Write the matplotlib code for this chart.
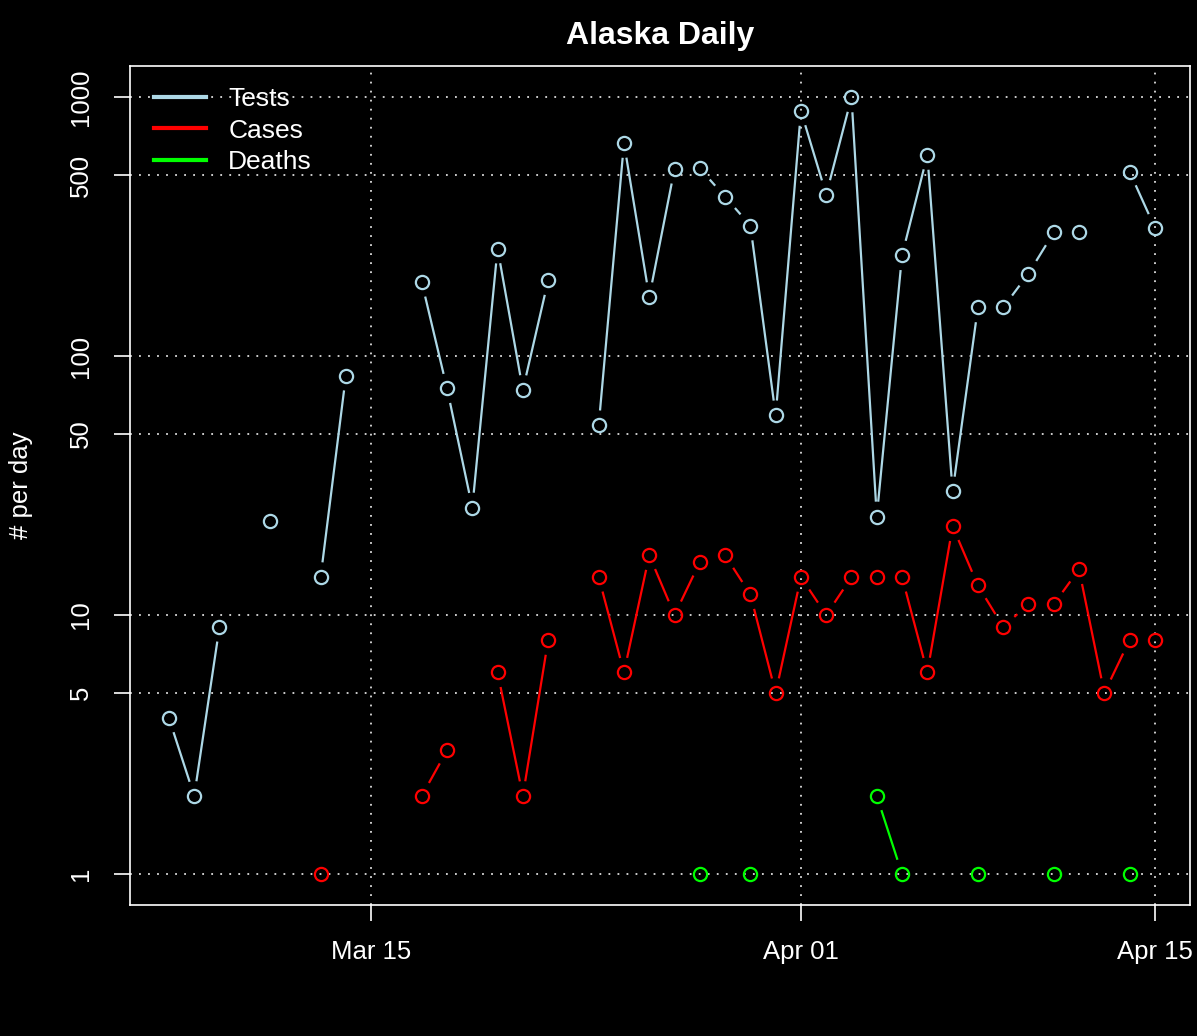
import numpy as np
import pandas as pd
import matplotlib

matplotlib.use("Agg")
import matplotlib.pyplot as plt
import matplotlib.dates as mdates
from matplotlib.lines import Line2D

plt.rcParams["font.family"] = ["Liberation Sans", "DejaVu Sans"]

nan = np.nan
dates = pd.date_range("2020-03-07", "2020-04-15", freq="D")

# one value per day, Mar 07 .. Apr 15 (nan = no report)
tests = [4, 2, 9, nan, 23, nan, 14, 84, nan, nan,
         193, 75, 26, 260, 74, 196, nan, 54, 665, 169,
         528, 530, 412, 319, 59, 884, 420, 997, 24, 245,
         598, 30, 154, 154, 208, 300, 302, nan, 515, 313]
cases = [nan, nan, nan, nan, nan, nan, 1, nan, nan, nan,
         2, 3, nan, 6, 2, 8, nan, 14, 6, 17,
         10, 16, 17, 12, 5, 14, 10, 14, 14, 14,
         6, 22, 13, 9, 11, 11, 15, 5, 8, 8]
deaths = [nan] * 21 + [1, nan, 1, nan, nan, nan, nan, 2, 1,
                       nan, nan, 1, nan, nan, 1, nan, nan, 1, nan]

series = [("Tests", tests, "#ADD8E6"), ("Cases", cases, "#FF0000"), ("Deaths", deaths, "#00FF00")]
yticks = [1, 5, 10, 50, 100, 500, 1000]
xticks = pd.to_datetime(["2020-03-15", "2020-04-01", "2020-04-15"])
xtick_labels = ["Mar 15", "Apr 01", "Apr 15"]

W, H = 1197, 1036
fig = plt.figure(figsize=(W / 100, H / 100), dpi=100, facecolor="black")
ax = fig.add_axes([130 / W, 1 - 905 / H, (1190 - 130) / W, (905 - 66) / H])
ax.set_facecolor("black")
ax.set_yscale("log")
x0 = mdates.date2num(dates[0]) - 1.54
ax.set_xlim(x0, x0 + 41.93)
ax.set_ylim(10 ** -0.12, 10 ** 3.12)

for s in ax.spines.values():
    s.set_color("white")
    s.set_linewidth(1.2)

ax.set_yticks(yticks)
ax.set_yticklabels([str(v) for v in yticks], rotation=90, va="center")
ax.yaxis.set_minor_locator(matplotlib.ticker.NullLocator())
ax.set_xticks(mdates.date2num(xticks))
ax.set_xticklabels(xtick_labels)
ax.tick_params(colors="white", labelsize=18.5, length=11.5, width=1.2)
ax.tick_params(axis="x", pad=14)
ax.tick_params(axis="y", pad=15)
for v in yticks:
    ax.axhline(v, color="#dddddd", ls=(0, (1, 4)), lw=1.3, zorder=1)
for v in mdates.date2num(xticks):
    ax.axvline(v, color="#dddddd", ls=(0, (1, 4)), lw=1.3, zorder=1)

# R type="b": segments with gaps around the points
gap = 16
xs = mdates.date2num(dates)
fig.canvas.draw()
to_px = ax.transData
from_px = ax.transData.inverted()
for name, vals, col in series:
    vals = np.array(vals, dtype=float)
    for i in range(len(vals) - 1):
        if np.isnan(vals[i]) or np.isnan(vals[i + 1]):
            continue
        p = to_px.transform([(xs[i], vals[i]), (xs[i + 1], vals[i + 1])])
        d = p[1] - p[0]
        L = np.hypot(*d)
        if L <= 2 * gap:
            continue
        u = d / L
        q = from_px.transform([p[0] + u * gap, p[1] - u * gap])
        ax.plot(q[:, 0], q[:, 1], color=col, lw=1.6, zorder=3)
    ax.plot(xs, vals, ls="none", marker="o", ms=9.5, mfc="none", mec=col, mew=1.6, zorder=4)

ax.set_title("Alaska Daily", color="white", fontsize=23, fontweight="bold", pad=16)
fig.text(21 / W, 1 - 485 / H, "# per day", color="white", fontsize=18.5,
         rotation=90, ha="center", va="center")

handles = [Line2D([], [], color=c, lw=3) for _, _, c in series]
leg = ax.legend(handles, [n for n, _, _ in series], loc="upper left", frameon=False,
                fontsize=19, labelcolor="white", handlelength=1.95, handletextpad=0.85,
                labelspacing=0.28, borderaxespad=0.4, bbox_to_anchor=(0.003, 1.0))

fig.savefig("out.png", dpi=100, facecolor="black")
